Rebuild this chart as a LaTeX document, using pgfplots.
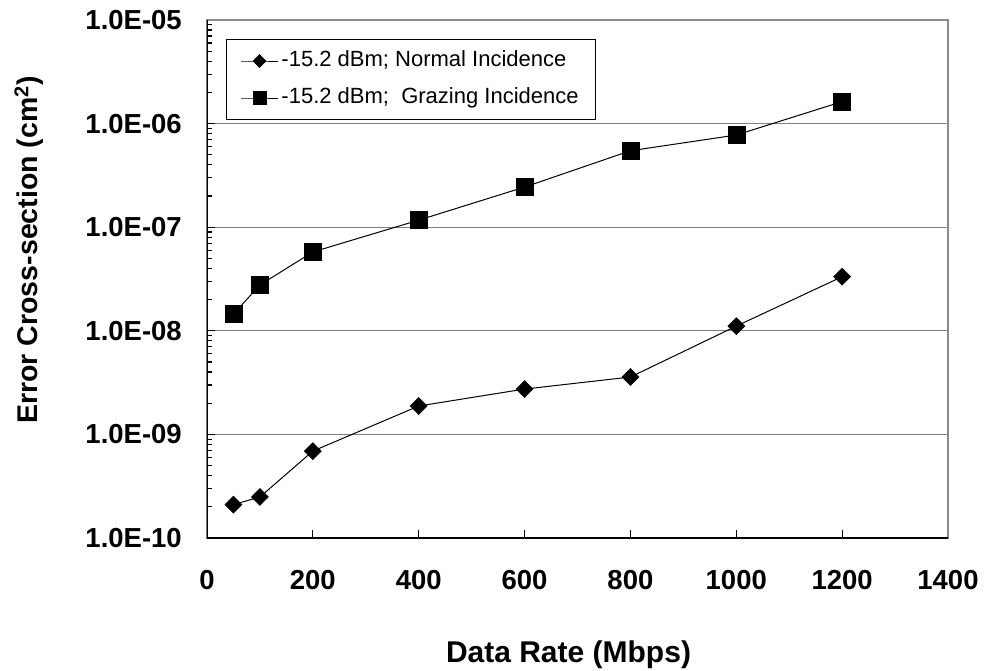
\documentclass[border=0pt]{standalone}
\usepackage{pgfplots}
\pgfplotsset{compat=1.18}
\usepackage{fontspec}
\setmainfont{Liberation Sans}
\pgfdeclareplotmark{sqdiamond*}{%
  \pgfpathmoveto{\pgfqpoint{0pt}{\pgfplotmarksize}}%
  \pgfpathlineto{\pgfqpoint{\pgfplotmarksize}{0pt}}%
  \pgfpathlineto{\pgfqpoint{0pt}{-\pgfplotmarksize}}%
  \pgfpathlineto{\pgfqpoint{-\pgfplotmarksize}{0pt}}%
  \pgfpathclose\pgfusepathqfillstroke}
\begin{document}
\begin{tikzpicture}
\useasboundingbox (-207pt,-133pt) rectangle (779pt,538pt);
\begin{axis}[
  scale only axis, width=741pt, height=518pt,
  at={(0,0)}, anchor=south west,
  xmin=0, xmax=1400, ymin=1e-10, ymax=1e-5, ymode=log,
  xtick={0,200,400,600,800,1000,1200,1400},
  xticklabels={0,200,400,600,800,1000,1200,1400},
  ytick={1e-10,1e-9,1e-8,1e-7,1e-6,1e-5},
  yticklabels={1.0E-10,1.0E-09,1.0E-08,1.0E-07,1.0E-06,1.0E-05},
  minor ytick={2e-10,3e-10,4e-10,5e-10,6e-10,7e-10,8e-10,9e-10,
               2e-9,3e-9,4e-9,5e-9,6e-9,7e-9,8e-9,9e-9,
               2e-8,3e-8,4e-8,5e-8,6e-8,7e-8,8e-8,9e-8,
               2e-7,3e-7,4e-7,5e-7,6e-7,7e-7,8e-7,9e-7,
               2e-6,3e-6,4e-6,5e-6,6e-6,7e-6,8e-6,9e-6},
  tick align=inside, xtick pos=left, ytick pos=left,
  major tick length=8pt, minor tick length=5.5pt,
  tick style={black, line width=1.2pt},
  ymajorgrids, major grid style={black!50, line width=1.2pt},
  axis line style={black!45, line width=1.2pt},
  ticklabel style={font=\fontsize{27.5}{33}\selectfont\bfseries},
  yticklabel style={inner sep=0pt, anchor=east, xshift=-25pt},
  xticklabel style={inner sep=0pt, anchor=north, yshift=-32pt},
  xlabel={Data Rate (Mbps)},
  xlabel style={at={(axis description cs:0.4879,-0.2259)}, anchor=center, font=\fontsize{30}{36}\selectfont\bfseries},
  ylabel={Error Cross-section (cm\textsuperscript{2})},
  ylabel style={at={(axis description cs:-0.2402,0.556)}, anchor=center, font=\fontsize{28.5}{34}\selectfont\bfseries},
  legend style={at={(axis description cs:0.02564,0.96332)}, anchor=north west,
    draw=black, line width=1pt, fill=white, font=\fontsize{22}{26}\selectfont,
    inner xsep=14pt, inner ysep=8pt, row sep=10pt,
    nodes={inner sep=3pt, text height=16pt, text depth=5pt}},
  legend cell align=left,
  legend image code/.code={\draw[mark repeat=2,mark phase=2] plot coordinates {(0pt,0pt) (18.5pt,0pt) (37pt,0pt)};},
  every legend image post/.style={mark size=6.5pt},
]
\addplot[black, line width=1pt, mark=sqdiamond*, mark size=8.5pt, mark options={line width=0.5pt}]
  coordinates {(50,2.1e-10) (100,2.49e-10) (200,6.9e-10) (400,1.88e-9) (600,2.74e-9) (800,3.58e-9) (1000,1.11e-8) (1200,3.33e-8)};
\addlegendentry{-15.2 dBm; Normal Incidence}
\addplot[black, line width=1pt, mark=square*, mark size=8.5pt, mark options={line width=0.5pt}]
  coordinates {(50,1.45e-8) (100,2.77e-8) (200,5.77e-8) (400,1.17e-7) (600,2.44e-7) (800,5.47e-7) (1000,7.76e-7) (1200,1.63e-6)};
\addlegendentry{-15.2 dBm;\ \ Grazing Incidence}
\draw[black, line width=2.7pt] (rel axis cs:0,1) -- (rel axis cs:0,0) -- (rel axis cs:1,0);
\end{axis}
\end{tikzpicture}
\end{document}
